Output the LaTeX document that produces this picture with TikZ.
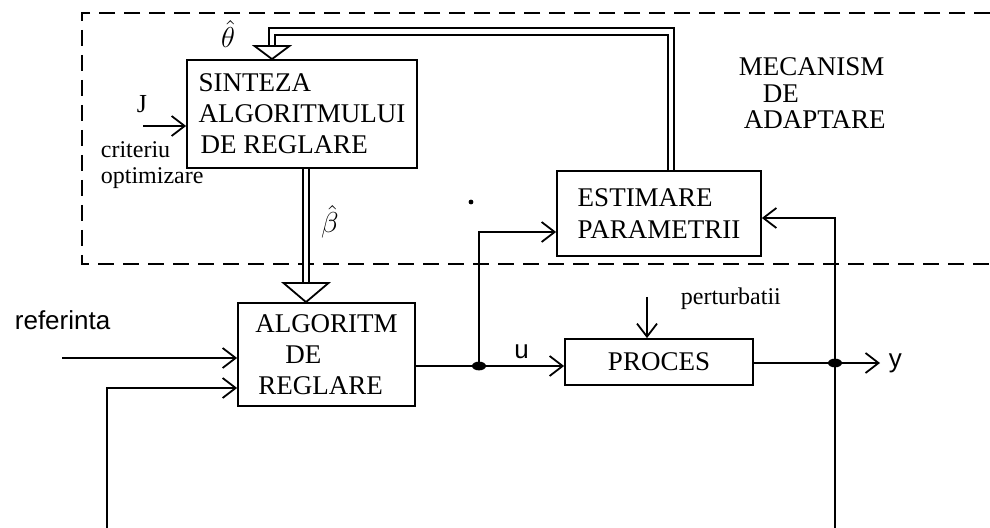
\documentclass[tikz,border=0pt]{standalone}
\usepackage{fontspec}
\setmainfont{Liberation Serif}
\setsansfont{Liberation Sans}
\usetikzlibrary{arrows.meta,positioning}

\begin{document}
\begin{tikzpicture}[x=0.5pt,y=-0.5pt,line width=0.9pt,
  blok/.style={draw,align=left,inner sep=0pt,font=\fontsize{13.5}{15.5}\selectfont},
  arr/.style={-{Straight Barb[length=6.5pt,width=10pt]}},
  dbl/.style={double,double distance=2.3pt},
  gol/.style={fill=white},
  ramka/.style={dash pattern=on 8pt off 4.5pt},
  eti/.style={inner sep=0pt,font=\fontsize{12}{13.5}\selectfont},
  sans/.style={inner sep=0pt,font=\sffamily\fontsize{13}{15}\selectfont}]
  \useasboundingbox (0,0) rectangle (990,528);

  % mecanism de adaptare
  \draw[ramka] (990,13) -- (82,13) -- (82,264) -- (990,264);
  \node[anchor=north west,align=left,inner sep=0pt,font=\fontsize{13.5}{13.3}\selectfont]
    (mec) at (738,57) {MECANISM\\\hspace*{12pt}DE\\\hspace*{2.5pt}ADAPTARE};

  % blocuri
  \node[blok,minimum width=115pt,minimum height=54pt] (sint) at (302,114)
    {SINTEZA\\ALGORITMULUI\\\hspace*{1pt}DE REGLARE};
  \node[blok,minimum width=88.5pt,minimum height=51.5pt] (algo) at (326.5,354.5)
    {ALGORITM\\\hspace*{15pt}DE\\\hspace*{1.5pt}REGLARE};
  \node[blok,minimum width=94pt,minimum height=23pt] (proc) at (659,362) {PROCES};
  \node[blok,minimum width=102pt,minimum height=42.5pt,font=\fontsize{13.5}{16}\selectfont]
    (est) [above=40.5pt of proc] {ESTIMARE\\PARAMETRII};

  % etichete
  \node[font=\fontsize{15}{15}\selectfont] (teta) at (228,34) {$\hat{\theta}$};
  \node[font=\fontsize{14}{14}\selectfont] (beta) at (330,222) {$\hat{\beta}$};
  \node[eti,anchor=base west,font=\fontsize{13}{13}\selectfont] (jl) at (136,113) {J};
  \node[eti,anchor=base west] (critl) at (100,158) {criteriu};
  \node[eti,anchor=base west] (optl) at (100,184) {optimizare};
  \node[eti,anchor=base west] (pertl) at (680,305) {perturbatii};
  \node[sans,anchor=base west] (refl) at (14,330) {referinta};

  \coordinate (j1) at (479,366);
  \coordinate (j2) at (835,363);
  \coordinate (yout) at (880,363);
  \coordinate (ref) at (62,358);
  \coordinate (crit) at (143,126);
  \coordinate (pert) at (647,297);
  \coordinate (fbl) at (107,528);
  \coordinate (fbr) at (835,528);
  \coordinate (d1) at (est.north -| 671,0);
  \coordinate (d2) at (sint.south -| 306,0);

  % legaturi
  \draw[arr] (ref) -- (ref -| algo.west);
  \draw[arr] (fbl) |- (algo.west |- 0,388);
  \draw (algo.east |- j1) -- (j1);
  \draw[arr] (j1) -- node[sans,above=3pt] (ul) {u} (j1 -| proc.west);
  \draw[arr] (j1) |- (est.west |- 0,232);
  \draw (proc.east |- j2) -- (j2);
  \draw[arr] (j2) -- (yout) node[sans,right=4pt] (yl) {y};
  \draw[arr] (j2) |- (est.east |- 0,218);
  \draw (j2) -- (fbr);
  \draw[arr] (pert) -- (pert |- proc.north);
  \draw[arr] (crit) -- (crit -| sint.west);
  \fill (j1) ellipse [x radius=3.5pt,y radius=2.2pt];
  \fill (j2) ellipse [x radius=3.5pt,y radius=2.2pt];

  % sageti duble
  \draw[dbl] (d1) |- (272,31.5) -- (272,47);
  \draw[gol] (254.5,46) -- (289.5,46) -- (sint.north -| 272,0) -- cycle;
  \draw[dbl] (d2) -- (306,284);
  \draw[gol] (283.5,283) -- (328.5,283) -- (algo.north -| 306,0) -- cycle;

  \fill (471,202) circle (1.2pt);
\end{tikzpicture}
\end{document}
